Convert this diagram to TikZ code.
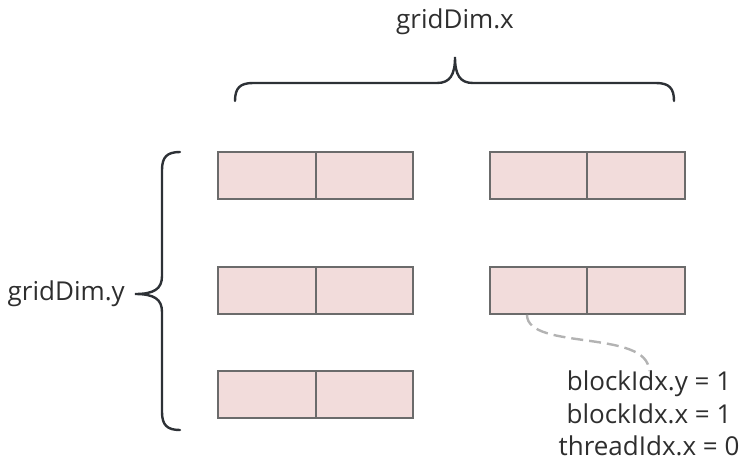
\documentclass[tikz,border=0pt]{standalone}
\usepackage{fontspec}
\setmainfont{Open Sans}
\definecolor{cellfill}{HTML}{F2DCDB}
\definecolor{cellline}{HTML}{6B6B6B}
\definecolor{bracecol}{HTML}{2D3136}
\definecolor{txtcol}{HTML}{2E2E2E}
\definecolor{dashcol}{HTML}{B3B3B3}
\tikzset{
  cell/.style={draw=cellline,fill=cellfill,line width=1.6pt,minimum width=97.5pt,minimum height=47pt,inner sep=0pt},
  bracepath/.style={draw=bracecol,line width=2.4pt,line cap=round},
  lbl/.style={text=txtcol,font=\fontsize{26}{32.5}\selectfont,inner sep=0pt}
}
\begin{document}
\begin{tikzpicture}[x=1pt,y=-1pt]
\useasboundingbox (0,0) rectangle (754,474);

% blocks
\node[cell] at (267,175.5) (b00l) {};
\node[cell] at (364.5,175.5) (b00r) {};
\node[cell] at (538.5,175.5) (b01l) {};
\node[cell] at (636,175.5) (b01r) {};
\node[cell] at (267,290.5) (b10l) {};
\node[cell] at (364.5,290.5) (b10r) {};
\node[cell] at (538.5,290.5) (b11l) {};
\node[cell] at (636,290.5) (b11r) {};
\node[cell] at (267,394.5) (b20l) {};
\node[cell] at (364.5,394.5) (b20r) {};

% braces
\draw[bracepath] (235,101) .. controls (235,88) and (240,83) .. (253,83) -- (437,83)
  .. controls (450,83) and (455,75) .. (455,57) .. controls (455,75) and (460,83) .. (473,83)
  -- (656,83) .. controls (669,83) and (674,88) .. (674,101);
\draw[bracepath] (180,152) .. controls (167,152) and (162,157) .. (162,170) -- (162,276)
  .. controls (162,289) and (154,294) .. (135,294) .. controls (154,294) and (162,299) .. (162,312)
  -- (162,412) .. controls (162,425) and (167,430) .. (180,430);

\node[lbl] at (455,22) (gx) {gridDim.x};
\node[lbl,anchor=east] at (125,294) (gy) {gridDim.y};

% index label
\node[lbl,anchor=north,align=center] at (649,371) (info) {blockIdx.y = 1\\blockIdx.x = 1\\threadIdx.x = 0};
\draw[dashcol,line width=2.4pt,dash pattern=on 12pt off 6pt] ([xshift=-11.5pt]b11l.south)
  .. controls +(0,36) and +(0,-42) .. (info.north);

\end{tikzpicture}
\end{document}
